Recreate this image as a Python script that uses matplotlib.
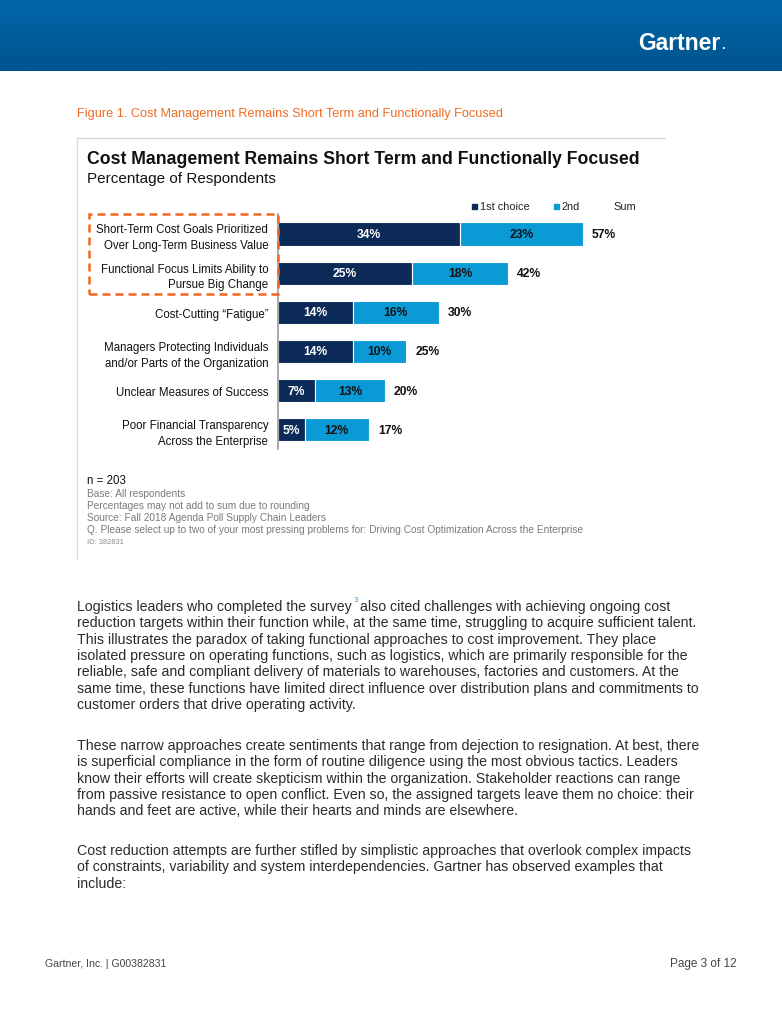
import numpy as np
import matplotlib
matplotlib.use("Agg")
import matplotlib.pyplot as plt
from matplotlib.patches import Rectangle
from matplotlib.lines import Line2D
from matplotlib.colors import LinearSegmentedColormap

# chart data
categories = [
    "Short-Term Cost Goals Prioritized\nOver Long-Term Business Value",
    "Functional Focus Limits Ability to\nPursue Big Change",
    "Cost-Cutting \u201cFatigue\u201d",
    "Managers Protecting Individuals\nand/or Parts of the Organization",
    "Unclear Measures of Success",
    "Poor Financial Transparency\nAcross the Enterprise",
]
first_choice = [34, 25, 14, 14, 7, 5]
second_choice = [23, 18, 16, 10, 13, 12]
sums = [57, 42, 30, 25, 20, 17]
legend_labels = ["1st choice", "2nd", "Sum"]

notes = [
    "Base: All respondents",
    "Percentages may not add to sum due to rounding",
    "Source: Fall 2018 Agenda Poll Supply Chain Leaders",
    "Q. Please select up to two of your most pressing problems for: Driving Cost Optimization Across the Enterprise",
]

para1 = [
    "reduction targets within their function while, at the same time, struggling to acquire sufficient talent.",
    "This illustrates the paradox of taking functional approaches to cost improvement. They place",
    "isolated pressure on operating functions, such as logistics, which are primarily responsible for the",
    "reliable, safe and compliant delivery of materials to warehouses, factories and customers. At the",
    "same time, these functions have limited direct influence over distribution plans and commitments to",
    "customer orders that drive operating activity.",
]
para2 = [
    "These narrow approaches create sentiments that range from dejection to resignation. At best, there",
    "is superficial compliance in the form of routine diligence using the most obvious tactics. Leaders",
    "know their efforts will create skepticism within the organization. Stakeholder reactions can range",
    "from passive resistance to open conflict. Even so, the assigned targets leave them no choice: their",
    "hands and feet are active, while their hearts and minds are elsewhere.",
]
para3 = [
    "Cost reduction attempts are further stifled by simplistic approaches that overlook complex impacts",
    "of constraints, variability and system interdependencies. Gartner has observed examples that",
    "include:",
]

navy = "#0b2a57"
light = "#0a9ad6"
orange = "#f26522"

W, H = 782, 1012
def fx(x):
    return x / W
def fy(y):
    return 1 - y / H

plt.rcParams['font.family'] = ['Liberation Sans', 'DejaVu Sans']
fig = plt.figure(figsize=(7.82, 10.12), dpi=100)
renderer = fig.canvas.get_renderer()

# header band
hax = fig.add_axes([0, fy(72), 1, 72 / H])
cmap = LinearSegmentedColormap.from_list('hdr', ['#0067ab', '#00548f'])
hax.imshow(np.linspace(0, 1, 60).reshape(-1, 1), aspect='auto', cmap=cmap, extent=[0, 1, 0, 1])
hax.axis('off')
logo = fig.text(fx(638), fy(43), "Gartner", color='white', fontsize=16.5, fontweight='bold', va='center')
lb = logo.get_window_extent(renderer)
fig.text(lb.x1 / W + 0.0005, fy(46), ".", color='white', fontsize=9, fontweight='bold', va='center')

# caption
fig.text(fx(77), fy(114), "Figure 1. Cost Management Remains Short Term and Functionally Focused",
         color='#f26b21', fontsize=9.2, va='center')

# frame lines
fig.add_artist(Line2D([fx(77), fx(665)], [fy(139), fy(139)], color='#d8d8d8', lw=1, transform=fig.transFigure))
fig.add_artist(Line2D([fx(77), fx(77)], [fy(139), fy(560)], color='#d8d8d8', lw=1, transform=fig.transFigure))

# title
fig.text(fx(87), fy(159), "Cost Management Remains Short Term and Functionally Focused",
         fontsize=12.7, fontweight='bold', color='#111111', va='center')
fig.text(fx(87), fy(179), "Percentage of Respondents", fontsize=11, color='#111111', va='center')

# legend
fig.add_artist(Rectangle((fx(472), fy(210)), 5 / W, 5 / H, color=navy, transform=fig.transFigure))
fig.text(fx(480), fy(207), legend_labels[0], fontsize=7.9, color='#222222', va='center')
fig.add_artist(Rectangle((fx(554), fy(210)), 5 / W, 5 / H, color=light, transform=fig.transFigure))
fig.text(fx(562), fy(207), legend_labels[1], fontsize=7.9, color='#222222', va='center')
fig.text(fx(613), fy(207), legend_labels[2], fontsize=7.9, color='#222222', va='center')

# bar chart
px_per_pct = 5.35
ax = fig.add_axes([fx(278), fy(450), (660 - 278) / W, (450 - 215) / H])
y = np.arange(len(categories))
ax.barh(y, first_choice, height=0.59, color=navy, edgecolor='white', linewidth=0.8)
ax.barh(y, second_choice, left=first_choice, height=0.59, color=light, edgecolor='white', linewidth=0.8)
ax.set_xlim(0, (660 - 278) / px_per_pct)
ax.set_ylim(5.49, -0.51)
ax.set_xticks([])
ax.set_yticks(y, categories)
ax.tick_params(axis='y', length=0, pad=7, labelsize=8.3, labelcolor='#111111')
plt.setp(ax.get_yticklabels(), linespacing=1.4)
for s in ['top', 'right', 'bottom']:
    ax.spines[s].set_visible(False)
ax.spines['left'].set_color('#9a9a9a')
ax.spines['left'].set_linewidth(1.2)
ax.patch.set_alpha(0)

for i in range(len(categories)):
    a = first_choice[i]
    b = second_choice[i]
    ax.text(a / 2, i, f"{a}%", ha='center', va='center', color='white', fontsize=8.7, fontweight='bold')
    ax.text(a + b / 2, i, f"{b}%", ha='center', va='center', color='#111111', fontsize=8.7, fontweight='bold')
    ax.annotate(f"{sums[i]}%", (a + b, i), xytext=(6.5, 0), textcoords='offset points',
                ha='left', va='center', color='#111111', fontsize=8.7, fontweight='bold')

# dashed highlight box
fig.add_artist(Rectangle((fx(89), fy(295)), (278 - 89) / W, (295 - 215) / H, transform=fig.transFigure,
                         fill=False, edgecolor=orange, linestyle=(0, (3.2, 2)), linewidth=1.8))

# notes
fig.text(fx(87), fy(481), "n = 203", fontsize=8.3, color='#111111', va='center')
for k, line in enumerate(notes):
    fig.text(fx(87), fy(494 + 12 * k), line, fontsize=7.3, color='#7a7a7a', va='center')
fig.text(fx(87), fy(542), "ID: 382831", fontsize=5.4, color='#8a8a8a', va='center')

# body text
body_size = 10.15
body_color = '#2b2b2b'
t = fig.text(fx(77), fy(607), "Logistics leaders who completed the survey", fontsize=body_size,
             color=body_color, va='center')
bb = t.get_window_extent(renderer)
fig.text(bb.x1 / W + 1.5 / W, fy(600), "3", fontsize=5.5, color='#3a9ad9', va='center')
fig.text(bb.x1 / W + 8 / W, fy(607), "also cited challenges with achieving ongoing cost",
         fontsize=body_size, color=body_color, va='center')
for k, line in enumerate(para1):
    fig.text(fx(77), fy(623.3 + 16.3 * k), line, fontsize=body_size, color=body_color, va='center')
for k, line in enumerate(para2):
    fig.text(fx(77), fy(746 + 16.3 * k), line, fontsize=body_size, color=body_color, va='center')
for k, line in enumerate(para3):
    fig.text(fx(77), fy(851 + 16.3 * k), line, fontsize=body_size, color=body_color, va='center')

# footer
fig.text(fx(45), fy(964), "Gartner, Inc. | G00382831", fontsize=7.6, color='#444444', va='center')
fig.text(fx(737), fy(964), "Page 3 of 12", fontsize=8.5, color='#444444', va='center', ha='right')

fig.savefig("out.png", dpi=100)
